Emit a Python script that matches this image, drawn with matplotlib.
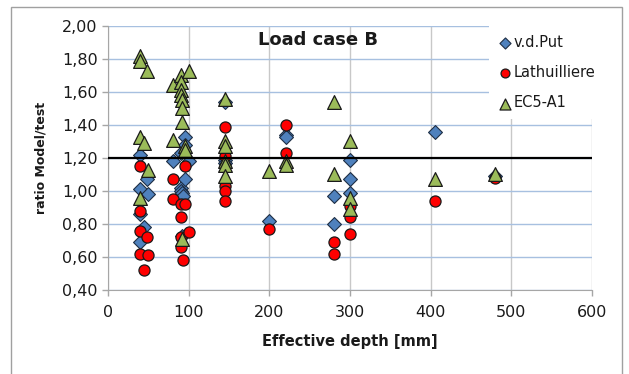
import matplotlib
matplotlib.use("Agg")
import matplotlib.pyplot as plt
from matplotlib.patches import Rectangle

# effective depth [mm] and ratio model/test, per series
vdput_x = [40, 40, 40, 40, 45, 48, 50,
           80, 90, 90, 90, 92, 93, 91, 95, 95, 95, 100,
           145, 145, 145, 200, 220, 220, 280, 280,
           300, 300, 300, 405, 480]
vdput_y = [1.22, 1.01, 0.86, 0.69, 0.78, 1.07, 0.98,
           1.18, 1.23, 1.02, 1.00, 0.99, 0.97, 0.73, 1.33, 1.28, 1.07, 1.18,
           1.54, 1.19, 1.17, 0.82, 1.34, 1.33, 0.97, 0.80,
           1.19, 1.07, 0.99, 1.36, 1.09]

lath_x = [40, 40, 40, 40, 45, 48, 50,
          80, 80, 90, 90, 90, 90, 93, 95, 95, 100,
          145, 145, 145, 145, 145, 145, 200, 220, 220,
          280, 280, 300, 300, 300, 405, 480]
lath_y = [1.15, 0.88, 0.76, 0.62, 0.52, 0.72, 0.61,
          1.07, 0.95, 0.92, 0.84, 0.72, 0.66, 0.58, 1.15, 0.92, 0.75,
          1.39, 1.21, 1.15, 1.03, 1.00, 0.94, 0.77, 1.40, 1.23,
          0.69, 0.62, 0.91, 0.84, 0.74, 0.94, 1.08]

ec5_x = [40, 40, 40, 40, 45, 48, 50,
         80, 80, 90, 90, 90, 90, 91, 91, 91, 92, 95, 95, 100,
         145, 145, 145, 145, 145, 145, 200, 220, 220,
         280, 280, 300, 300, 300, 405, 480]
ec5_y = [1.82, 1.79, 1.33, 0.96, 1.29, 1.73, 1.13,
         1.64, 1.31, 1.70, 1.66, 1.61, 1.58, 1.55, 1.50, 1.42, 0.71, 1.27, 1.25, 1.73,
         1.56, 1.30, 1.27, 1.18, 1.16, 1.09, 1.12, 1.18, 1.16,
         1.54, 1.10, 1.30, 0.96, 0.89, 1.07, 1.10]

ref_x = [0, 600]
ref_y = [1.2, 1.2]

plt.rcParams["font.family"] = "DejaVu Sans"

fig = plt.figure(figsize=(6.29, 3.74), dpi=100)
ax = fig.add_axes([0.172, 0.2246, 0.769, 0.706])

ax.scatter(vdput_x, vdput_y, marker="D", s=50, color="#4f81bd",
           edgecolor="#1f2f45", linewidth=0.8, zorder=3, label="v.d.Put")
ax.scatter(lath_x, lath_y, marker="o", s=64, color="#ff0000",
           edgecolor="#1a1a1a", linewidth=0.9, zorder=4, label="Lathuilliere")
ax.scatter(ec5_x, ec5_y, marker="^", s=98, color="#9bbb59",
           edgecolor="#1a1a1a", linewidth=0.9, zorder=5, label="EC5-A1")
ax.plot(ref_x, ref_y, color="black", lw=1.6, zorder=5.5)

ax.set_xlim(0, 600)
ax.set_ylim(0.4, 2.0)
ax.set_xticks(range(0, 601, 100))
ax.set_yticks([0.4 + 0.2 * i for i in range(9)])
ax.set_yticklabels([f"{0.4 + 0.2 * i:.2f}".replace(".", ",") for i in range(9)])

ax.yaxis.grid(True, color="#a7c0e0", lw=1.0, zorder=0)
ax.xaxis.grid(True, color="#c8c8c8", lw=1.0, zorder=0)
ax.set_axisbelow(True)
for side in ["top", "right"]:
    ax.spines[side].set_visible(False)
for side in ["left", "bottom"]:
    ax.spines[side].set_color("#a6a6a6")
ax.tick_params(axis="both", colors="#a6a6a6", labelcolor="#1a1a1a",
               labelsize=11.5, length=4, width=1)
ax.tick_params(axis="x", pad=7)

ax.set_xlabel("Effective depth [mm]", fontsize=10.5, fontweight="bold", color="#1a1a1a")
ax.xaxis.set_label_coords(0.5, -0.165)
ax.set_ylabel("ratio Model/test", fontsize=9, fontweight="bold", color="#1a1a1a")
ax.yaxis.set_label_coords(-0.125, 0.5)

ax.text(0.433, 0.945, "Load case B", transform=ax.transAxes, ha="center",
        va="center", fontsize=13, fontweight="bold", color="#1a1a1a")

leg = ax.legend(loc="upper left", bbox_to_anchor=(0.788, 1.0), frameon=True,
                facecolor="white", edgecolor="none", framealpha=1, fancybox=False,
                borderaxespad=0, borderpad=0.6, labelspacing=1.05, handletextpad=0.05,
                handlelength=1.0, markerscale=0.8, fontsize=10.5)
leg.set_zorder(6)
for t in leg.get_texts():
    t.set_color("#1a1a1a")

fig.patches.append(Rectangle((0.0175, -0.01), 0.971, 0.991, transform=fig.transFigure,
                             fill=False, edgecolor="#a0a0a0", lw=1.0))

plt.savefig("out.png", dpi=100)
plt.close()
